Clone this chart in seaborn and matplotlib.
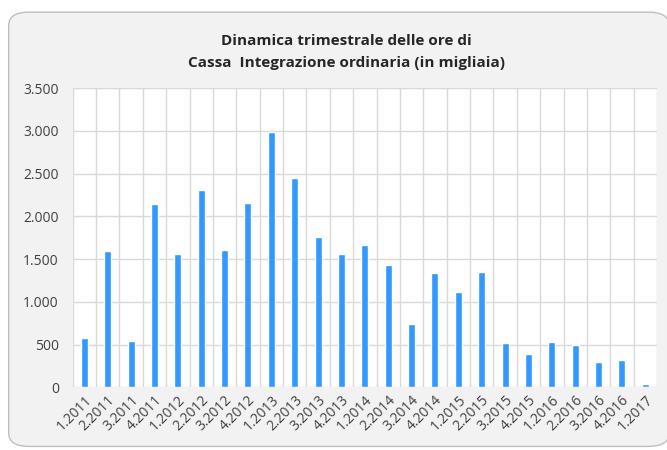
import matplotlib
matplotlib.use("Agg")
import matplotlib.pyplot as plt
import seaborn as sns
import pandas as pd
from matplotlib.ticker import FuncFormatter, FixedLocator
from matplotlib.patches import FancyBboxPatch

quarters = ["1.2011", "2.2011", "3.2011", "4.2011", "1.2012", "2.2012", "3.2012", "4.2012",
            "1.2013", "2.2013", "3.2013", "4.2013", "1.2014", "2.2014", "3.2014", "4.2014",
            "1.2015", "2.2015", "3.2015", "4.2015", "1.2016", "2.2016", "3.2016", "4.2016",
            "1.2017"]
hours = [580, 1600, 540, 2145, 1556, 2310, 1607, 2157,
         2984, 2446, 1762, 1557, 1666, 1432, 745, 1334,
         1116, 1346, 523, 386, 531, 496, 293, 320,
         43]
y_ticks = [0, 500, 1000, 1500, 2000, 2500, 3000, 3500]

df = pd.DataFrame({"quarter": quarters, "hours": hours})

sns.set_theme(style="white")
plt.rcParams["font.family"] = ["Open Sans", "DejaVu Sans"]

fig = plt.figure(figsize=(6.67, 4.5), dpi=100)
fig.patch.set_facecolor("white")
bg = FancyBboxPatch((0.013, 0.008), 0.99, 0.965, boxstyle="round,pad=0,rounding_size=0.03",
                    transform=fig.transFigure, facecolor="#f2f2f2", edgecolor="#bfbfbf",
                    linewidth=1.0, zorder=-10)
fig.patches.append(bg)

ax = fig.add_axes([0.109, 0.139, 0.876, 0.665])
ax.set_facecolor("white")
sns.barplot(data=df, x="quarter", y="hours", color="#3399ff", width=0.3,
            saturation=1, ax=ax, zorder=3)

ax.set_ylim(0, 3500)
ax.set_xlim(-0.5, len(quarters) - 0.5)
ax.yaxis.set_major_locator(FixedLocator(y_ticks))
ax.yaxis.set_major_formatter(FuncFormatter(lambda v, p: f"{int(v):,}".replace(",", ".")))
ax.xaxis.set_minor_locator(FixedLocator([i + 0.5 for i in range(-1, len(quarters))]))
ax.grid(axis="y", which="major", color="#d9d9d9", linewidth=1.0, zorder=0)
ax.grid(axis="x", which="minor", color="#d9d9d9", linewidth=1.0, zorder=0)
ax.set_axisbelow(True)
for s in ax.spines.values():
    s.set_visible(False)
ax.set_xlabel("")
ax.set_ylabel("")
ax.tick_params(axis="both", which="both", length=0, labelsize=10, colors="#404040")
ax.tick_params(axis="y", pad=10)
plt.setp(ax.get_xticklabels(), rotation=45, ha="right", rotation_mode="anchor")

fig.text(0.519, 0.909, "Dinamica trimestrale delle ore di", ha="center", va="center",
         fontsize=11, fontweight="bold", color="#262626")
fig.text(0.519, 0.859, "Cassa  Integrazione ordinaria (in migliaia)", ha="center", va="center",
         fontsize=11, fontweight="bold", color="#262626")

fig.savefig("out.png", dpi=100)
